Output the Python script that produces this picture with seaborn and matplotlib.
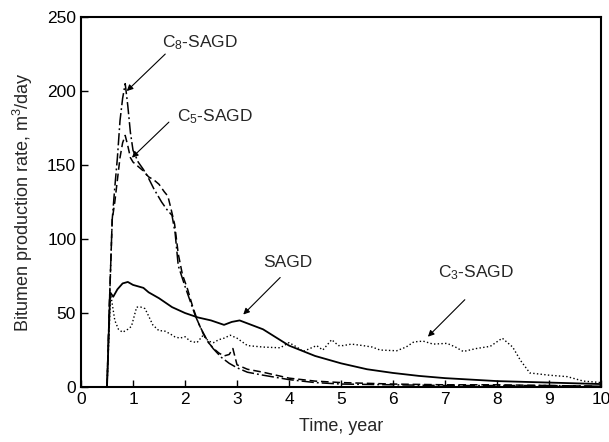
import matplotlib
matplotlib.use("Agg")
import matplotlib.pyplot as plt
import seaborn as sns
import pandas as pd

# Bitumen production rate (m3/day) versus time (years) for four processes
sagd_t = [0.5, 0.56, 0.62, 0.7, 0.8, 0.9, 1.0, 1.1, 1.2, 1.3, 1.5, 1.75, 2.0, 2.25,
          2.5, 2.75, 2.9, 3.05, 3.2, 3.5, 4.0, 4.5, 5.0, 5.5, 6.0, 6.5, 7.0, 8.0, 9.0, 10.0]
sagd_q = [0, 64, 61, 66, 70, 71, 69, 68, 67, 64, 60, 54, 50, 47,
          45, 42, 44, 45, 43, 39, 28, 21, 16, 12, 9.5, 7.5, 6, 4, 3, 2]

c3_t = [0.5, 0.57, 0.65, 0.72, 0.8, 0.9, 0.97, 1.07, 1.15, 1.23, 1.3, 1.38, 1.5, 1.6,
        1.71, 1.8, 1.9, 2.0, 2.1, 2.23, 2.35, 2.45, 2.55, 2.65, 2.75, 2.87, 3.0, 3.2,
        3.5, 3.83, 4.0, 4.15, 4.27, 4.4, 4.53, 4.65, 4.82, 4.95, 5.04, 5.2, 5.42, 5.6,
        5.75, 6.07, 6.25, 6.4, 6.58, 6.77, 7.04, 7.2, 7.35, 7.6, 7.87, 8.1, 8.3, 8.45,
        8.63, 9.0, 9.35, 9.66, 10.0]
c3_q = [0, 63, 45, 39, 37, 39, 41, 54, 54, 53, 48, 42, 38, 38,
        36, 34, 33, 34, 31, 30, 35, 31, 30, 32, 33, 35, 33, 28,
        27, 26.5, 30, 27, 24, 26, 28, 25, 32, 28, 28, 29, 28, 27,
        25, 24.5, 27, 30.5, 31, 29, 29.5, 27, 24, 26, 27.5, 33, 27, 18,
        9.5, 8, 7, 4, 3]

c5_t = [0.5, 0.55, 0.6, 0.65, 0.7, 0.75, 0.8, 0.85, 0.9, 0.95, 1.0, 1.1, 1.2, 1.3,
        1.4, 1.5, 1.6, 1.67, 1.72, 1.8, 1.87, 1.95, 2.05, 2.15, 2.25, 2.35, 2.45, 2.55,
        2.65, 2.75, 2.85, 2.92, 3.0, 3.2, 3.5, 4.0, 4.5, 5.0, 6.0, 7.0, 8.0, 9.0, 10.0]
c5_q = [0, 60, 113, 125, 140, 155, 165, 170, 163, 155, 152, 149, 146, 142,
        140, 137, 132, 129, 122, 110, 90, 76, 66, 54, 44, 36, 30, 26,
        23, 21, 22, 26, 15, 12, 10, 6, 4, 3, 2, 1.5, 1.5, 1, 0.5]

c8_t = [0.5, 0.55, 0.6, 0.65, 0.7, 0.75, 0.8, 0.85, 0.9, 0.95, 1.0, 1.1, 1.2, 1.3,
        1.4, 1.55, 1.65, 1.75, 1.81, 1.87, 2.0, 2.1, 2.2, 2.3, 2.42, 2.54, 2.7, 2.85,
        3.0, 3.2, 3.5, 4.0, 4.5, 5.0, 6.0, 7.0, 8.0, 9.0, 10.0]
c8_q = [0, 60, 113, 135, 155, 180, 195, 205, 190, 172, 160, 152, 147, 141,
        134, 125, 120, 116, 104, 82, 68, 58, 48, 40, 32, 26, 20, 16,
        13, 10, 8, 5, 3, 2, 1.5, 1, 1, 1, 0.5]

sns.set_style("ticks")
plt.rcParams["font.family"] = ["Liberation Sans", "DejaVu Sans"]
plt.rcParams["mathtext.default"] = "regular"

fig = plt.figure(figsize=(6.09, 4.42), dpi=100)
ax = fig.add_axes([0.133, 0.1244, 0.854, 0.837])

series = [
    (sagd_t, sagd_q, "-", None, 1.3),
    (c3_t, c3_q, ":", None, 1.0),
    (c5_t, c5_q, "--", (5, 2.5), 1.1),
    (c8_t, c8_q, "-.", (8, 2, 1.2, 2), 1.1),
]
for t, q, ls, dashes, lw in series:
    df = pd.DataFrame({"t": t, "q": q})
    line_kw = dict(color="black", linewidth=lw)
    if dashes is not None:
        line_kw["dashes"] = dashes
    else:
        line_kw["linestyle"] = ls
    sns.lineplot(data=df, x="t", y="q", ax=ax, sort=False, **line_kw)

ax.set_xlim(0, 10)
ax.set_ylim(0, 250)
ax.set_xticks(range(0, 11))
ax.set_yticks(range(0, 251, 50))
ax.tick_params(direction="in", length=5, width=1, labelsize=12.5, colors="black")
for s in ax.spines.values():
    s.set_linewidth(1.5)
    s.set_color("black")

ax.set_xlabel("Time, year", fontsize=13, labelpad=8)
ax.set_ylabel("Bitumen production rate, m$^3$/day", fontsize=13, labelpad=9)

labels = [
    ("C$_8$-SAGD", (2.29, 233), (1.62, 225), (0.88, 200)),
    ("C$_5$-SAGD", (2.58, 183), (1.69, 179), (0.98, 155)),
    ("SAGD", (3.98, 84), (3.83, 74), (3.12, 49)),
    ("C$_3$-SAGD", (7.6, 77), (7.38, 59), (6.67, 34)),
]
for text, tpos, tail, head in labels:
    ax.text(tpos[0], tpos[1], text, fontsize=12.5, ha="center", va="center")
    ax.annotate("", xy=head, xytext=tail,
                arrowprops=dict(arrowstyle="-|>", color="black", lw=0.8,
                                mutation_scale=9, shrinkA=0, shrinkB=0))

fig.savefig("out.png", dpi=100)
